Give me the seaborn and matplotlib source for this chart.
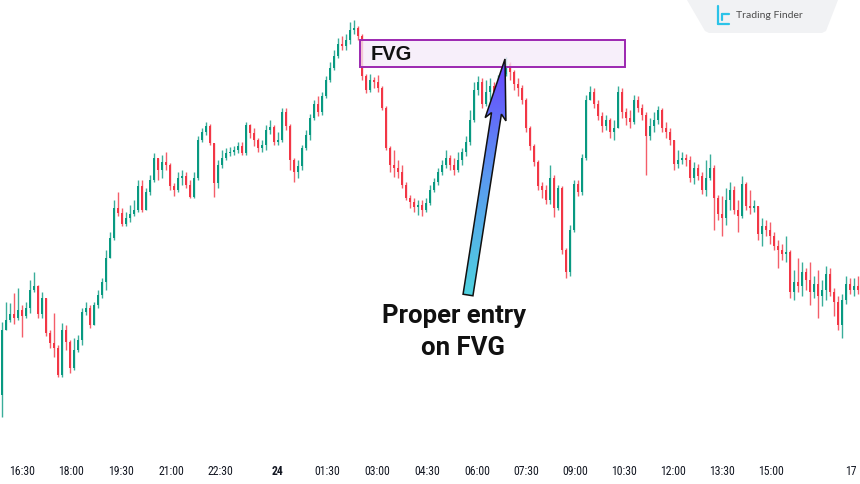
import numpy as np
import pandas as pd
import matplotlib
matplotlib.use("Agg")
import matplotlib.pyplot as plt
import seaborn as sns
from matplotlib.patches import Polygon, Rectangle
from matplotlib.colors import LinearSegmentedColormap

# candle data (arbitrary price units, one candle per bar)
first_open = 60
close = [125, 135, 141, 137, 145, 139, 147, 165, 169, 141,
         157, 122, 112, 107, 80, 125, 113, 87, 105, 115,
         143, 147, 130, 150, 160, 173, 197, 217, 247, 242,
         231, 237, 241, 245, 269, 245, 263, 275, 297, 285,
         293, 290, 269, 265, 277, 279, 270, 258, 277, 315,
         323, 329, 312, 272, 290, 297, 302, 303, 305, 309,
         302, 330, 322, 315, 307, 310, 325, 328, 313, 315,
         343, 329, 295, 283, 289, 307, 320, 337, 351, 343,
         359, 375, 387, 399, 411, 409, 415, 425, 427, 419,
         379, 365, 375, 373, 367, 347, 307, 290, 287, 283,
         270, 257, 253, 248, 250, 245, 252, 265, 273, 283,
         290, 297, 290, 285, 295, 303, 313, 335, 365, 373,
         351, 363, 369, 359, 371, 381, 391, 383, 371, 367,
         355, 327, 309, 293, 269, 265, 255, 277, 247, 267,
         205, 183, 225, 271, 263, 297, 355, 363, 351, 339,
         329, 335, 323, 327, 363, 343, 337, 333, 355, 347,
         340, 319, 329, 335, 345, 327, 323, 315, 291, 295,
         297, 295, 277, 287, 279, 265, 277, 287, 257, 241,
         237, 255, 265, 245, 239, 271, 249, 247, 249, 221,
         229, 225, 219, 209, 205, 201, 203, 163, 173, 169,
         183, 175, 163, 171, 159, 165, 181, 163, 153, 130,
         155, 171, 165, 169, 165]
high = [133, 153, 152, 162, 167, 150, 153, 175, 183, 170,
        163, 157, 125, 142, 110, 132, 130, 115, 117, 120,
        147, 153, 150, 153, 165, 177, 205, 223, 255, 263,
        247, 243, 250, 255, 275, 275, 267, 280, 302, 297,
        300, 303, 292, 272, 283, 285, 283, 275, 283, 319,
        327, 333, 331, 312, 295, 305, 307, 308, 309, 313,
        313, 333, 331, 327, 317, 315, 330, 335, 330, 323,
        347, 347, 331, 297, 295, 310, 325, 341, 355, 359,
        363, 379, 393, 405, 417, 419, 421, 433, 435, 429,
        421, 381, 381, 378, 380, 369, 349, 309, 305, 295,
        290, 273, 260, 257, 255, 255, 257, 270, 277, 287,
        295, 305, 300, 297, 303, 307, 319, 345, 373, 379,
        377, 375, 377, 373, 380, 387, 398, 393, 385, 377,
        370, 357, 329, 311, 295, 273, 270, 290, 280, 270,
        269, 207, 230, 275, 275, 301, 360, 369, 367, 355,
        343, 340, 337, 335, 369, 367, 347, 345, 360, 359,
        351, 343, 337, 343, 349, 347, 333, 327, 315, 305,
        303, 301, 299, 293, 291, 283, 295, 301, 290, 260,
        259, 267, 273, 269, 255, 279, 273, 265, 255, 249,
        237, 235, 233, 223, 215, 211, 219, 205, 185, 197,
        193, 187, 193, 179, 185, 175, 189, 187, 167, 159,
        161, 179, 177, 177, 179]
low = [38, 125, 133, 131, 135, 118, 137, 142, 163, 137,
       137, 119, 107, 98, 78, 78, 105, 82, 85, 103,
       110, 140, 127, 135, 147, 157, 165, 197, 215, 239,
       229, 229, 233, 239, 243, 243, 245, 260, 273, 275,
       277, 285, 265, 259, 263, 270, 267, 257, 257, 275,
       313, 320, 310, 258, 267, 287, 295, 299, 300, 302,
       300, 300, 317, 309, 303, 303, 305, 321, 310, 310,
       313, 325, 285, 273, 277, 285, 305, 315, 335, 339,
       340, 357, 373, 385, 397, 405, 405, 411, 421, 415,
       375, 362, 363, 367, 363, 345, 305, 283, 278, 277,
       267, 255, 247, 243, 240, 239, 243, 250, 263, 270,
       280, 287, 285, 280, 283, 290, 299, 310, 333, 360,
       347, 349, 355, 352, 355, 367, 379, 375, 365, 359,
       351, 323, 305, 289, 265, 257, 251, 251, 238, 245,
       201, 177, 179, 223, 259, 260, 295, 355, 347, 335,
       323, 325, 317, 315, 327, 337, 330, 327, 331, 343,
       335, 280, 315, 323, 331, 323, 317, 310, 285, 287,
       291, 289, 273, 271, 275, 261, 259, 275, 225, 235,
       219, 230, 245, 241, 223, 237, 245, 241, 243, 215,
       209, 219, 211, 205, 187, 195, 193, 157, 155, 163,
       159, 165, 150, 157, 137, 149, 155, 159, 139, 125,
       117, 151, 161, 159, 161]

tick_labels = ["16:30", "18:00", "19:30", "21:00", "22:30", "24", "01:30", "03:00",
               "04:30", "06:00", "07:30", "09:00", "10:30", "12:00", "13:30", "15:00", "17"]
tick_pos = [5, 17.25, 29.75, 42.25, 54.5, 68.75, 81.25, 93.75,
            106.25, 118.75, 131, 143.25, 155.5, 167.75, 180, 192.25, 212.25]

# FVG zone and the arrow (candle index / price units)
fvg_start, fvg_end = 89.5, 155.75
fvg_low, fvg_high = 388, 415
arrow_tail = (116.5, 160)
arrow_tip = (125.75, 396)

df = pd.DataFrame({"close": close, "high": high, "low": low})
df["open"] = df["close"].shift(1).fillna(first_open)
df["high"] = df[["high", "open", "close"]].max(axis=1)
df["low"] = df[["low", "open", "close"]].min(axis=1)
df["idx"] = np.arange(len(df))

UP, DOWN = "#089981", "#f23645"
colors = np.where(df["close"] >= df["open"], UP, DOWN)

sns.set_theme(style="white")
plt.rcParams["font.family"] = ["Roboto", "DejaVu Sans"]

fig = plt.figure(figsize=(8.6, 4.84), dpi=100)
ax = fig.add_axes([0, 29 / 484, 1, 455 / 484])

# wicks + bodies
ax.vlines(df["idx"], df["low"], df["high"], colors=colors, linewidth=1.0, alpha=0.8, zorder=2)
body = (df["close"] - df["open"]).to_numpy()
body = np.where(np.abs(body) < 1.5, 1.5, body)
ax.bar(df["idx"], body, bottom=df["open"], width=0.72, color=colors, linewidth=0, zorder=3)

ax.set_xlim(-0.5, len(df) - 0.5)
ax.set_ylim(0, 455)

# FVG box
ax.add_patch(Rectangle((fvg_start, fvg_low), fvg_end - fvg_start, fvg_high - fvg_low,
                       facecolor="#f5ebf9", edgecolor="none", alpha=0.8, zorder=4))
ax.add_patch(Rectangle((fvg_start, fvg_low), fvg_end - fvg_start, fvg_high - fvg_low,
                       facecolor="none", edgecolor="#9c27b0", linewidth=1.4, zorder=5))
ax.text(fvg_start + 2.6, (fvg_low + fvg_high) / 2 - 0.5, "FVG", fontsize=14.5, fontweight="bold",
        color="#111111", ha="left", va="center", zorder=6,
        family=["Liberation Sans", "DejaVu Sans"])

# gradient arrow, geometry in pixels then back to data
t = ax.transData.transform(arrow_tail)
p = ax.transData.transform(arrow_tip)
u = (p - t) / np.hypot(*(p - t))
n = np.array([-u[1], u[0]])
sw, hw, hl = 5.0, 10.5, 55.0
base = p - u * hl
barb = base - u * 6
pts_px = [t - n * sw, base - n * sw, barb - n * hw, p, barb + n * hw, base + n * sw, t + n * sw]
pts = ax.transData.inverted().transform(pts_px)
arrow = Polygon(pts, closed=True, facecolor="none", edgecolor="#111111", linewidth=1.1, zorder=8)
ax.add_patch(arrow)
cmap = LinearSegmentedColormap.from_list("arr", ["#4fd2df", "#5a9af0", "#6a45ff"])
grad = np.linspace(0, 1, 256).reshape(-1, 1)
im = ax.imshow(grad, extent=[pts[:, 0].min(), pts[:, 0].max(), pts[:, 1].min(), pts[:, 1].max()],
               origin="lower", aspect="auto", cmap=cmap, zorder=7)
im.set_clip_path(arrow)
ax.set_xlim(-0.5, len(df) - 0.5)
ax.set_ylim(0, 455)

ax.text(113, 139, "Proper entry", fontsize=18.5, fontweight="bold", color="#111111",
        ha="center", va="center", zorder=9)
ax.text(115.2, 107, "on FVG", fontsize=18.5, fontweight="bold", color="#111111",
        ha="center", va="center", zorder=9)

# time axis
ax.set_xticks(tick_pos)
ax.set_xticklabels(tick_labels)
ax.tick_params(axis="x", length=0, pad=7, labelsize=8.5, labelcolor="#131722")
for lab in ax.get_xticklabels():
    lab.set_family(["Liberation Sans Narrow", "Roboto Condensed", "Roboto"])
    if lab.get_text() == "24":
        lab.set_fontweight("bold")
ax.set_yticks([])
for s in ax.spines.values():
    s.set_visible(False)

# watermark badge top right
W, H = 860, 484
badge = [(687, 0), (838, 0), (826, 31), (822, 33), (709, 33), (705, 31)]
fig.patches.append(Polygon([(x / W, 1 - y / H) for x, y in badge], closed=True,
                           transform=fig.transFigure, facecolor="#f1f2f4", edgecolor="none"))
fig.text(736 / W, 1 - 16 / H, "Trading Finder", fontsize=7.5, color="#4d4d4d",
         ha="left", va="center", family=["Lato", "DejaVu Sans"])
logo = dict(color="#2bc3e8", linewidth=1.6, transform=fig.transFigure, solid_capstyle="round")
fig.add_artist(plt.Line2D([718 / W, 718 / W], [1 - 6 / H, 1 - 24 / H], **logo))
fig.add_artist(plt.Line2D([718 / W, 729 / W], [1 - 24 / H, 1 - 24 / H], **logo))
fig.add_artist(plt.Line2D([722 / W, 729 / W], [1 - 14 / H, 1 - 14 / H], **logo))
fig.add_artist(plt.Line2D([722 / W, 722 / W], [1 - 14 / H, 1 - 20 / H], **logo))

fig.savefig("out.png", dpi=100, facecolor="white")
